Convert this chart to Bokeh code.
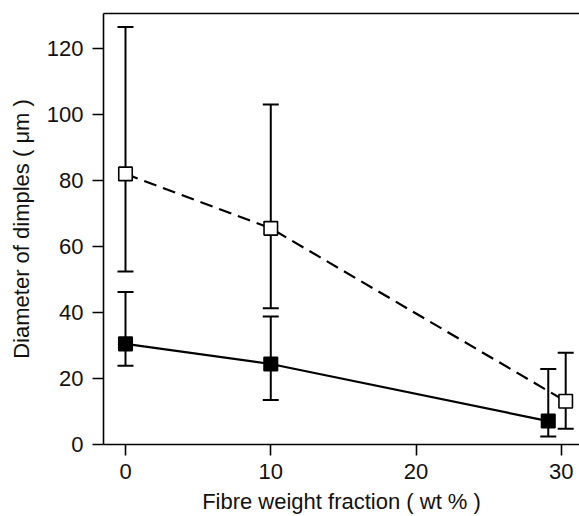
from bokeh.plotting import figure
from bokeh.models import ColumnDataSource, Whisker, TeeHead, LinearAxis, FixedTicker, Range1d
from bokeh.embed import file_html
from bokeh.resources import INLINE

# Data
fraction_open = [0, 10, 30.3]
open_mean = [82.0, 65.5, 13.1]
open_upper = [126.5, 103.0, 27.8]
open_lower = [52.4, 41.3, 4.8]

fraction_filled = [0, 10, 29.1]
filled_mean = [30.5, 24.4, 7.1]
filled_upper = [46.2, 38.8, 22.9]
filled_lower = [23.9, 13.5, 2.4]

x_ticks = [0, 10, 20, 30]
y_ticks = [0, 20, 40, 60, 80, 100, 120]

FONT = "Liberation Sans"

p = figure(width=579, height=516, output_backend="svg", toolbar_location=None,
           x_range=Range1d(-1.514, 31.25), y_range=Range1d(0, 130.6),
           min_border_left=103, min_border_right=0, min_border_top=13, min_border_bottom=72,
           x_axis_label="Fibre weight fraction ( wt % )",
           y_axis_label="Diameter of dimples ( \u03bcm )")
p.grid.visible = False
p.outline_line_color = None
p.background_fill_color = "white"
p.border_fill_color = "white"

for ax in (p.xaxis[0], p.yaxis[0]):
    ax.axis_line_width = 1.6
    ax.axis_line_color = "black"
    ax.major_tick_line_width = 1.6
    ax.major_tick_out = 11
    ax.major_tick_in = 0
    ax.minor_tick_line_color = None
    ax.major_label_text_font = FONT
    ax.major_label_text_font_size = "22px"
    ax.major_label_text_color = "#111111"
    ax.axis_label_text_font = FONT
    ax.axis_label_text_font_size = "22px"
    ax.axis_label_text_font_style = "normal"
    ax.axis_label_text_color = "#111111"

p.xaxis[0].ticker = FixedTicker(ticks=x_ticks)
p.yaxis[0].ticker = FixedTicker(ticks=y_ticks)
p.xaxis[0].major_label_standoff = 8
p.xaxis[0].axis_label_standoff = 7
p.yaxis[0].major_label_standoff = 9
p.yaxis[0].axis_label_standoff = 10

top = LinearAxis(ticker=FixedTicker(ticks=[]), axis_line_width=1.6, axis_line_color="black",
                 major_tick_line_color=None, minor_tick_line_color=None,
                 major_label_text_font_size="0px")
p.add_layout(top, "above")

src_open = ColumnDataSource(dict(x=fraction_open, y=open_mean, up=open_upper, lo=open_lower))
src_filled = ColumnDataSource(dict(x=fraction_filled, y=filled_mean, up=filled_upper, lo=filled_lower))

p.line("x", "y", source=src_open, line_color="black", line_width=2.2, line_dash="13 7")
p.line("x", "y", source=src_filled, line_color="black", line_width=2.2)

for src in (src_open, src_filled):
    w = Whisker(source=src, base="x", upper="up", lower="lo", line_width=2, line_color="black",
                upper_head=TeeHead(size=16, line_width=2, line_color="black"),
                lower_head=TeeHead(size=16, line_width=2, line_color="black"))
    p.add_layout(w)

p.scatter("x", "y", source=src_open, marker="square", size=13.5, fill_color="white",
          line_color="black", line_width=1.6)
p.scatter("x", "y", source=src_filled, marker="square", size=13.5, fill_color="black",
          line_color="black", line_width=1.6)

open("out.html", "w").write(file_html(p, INLINE))
